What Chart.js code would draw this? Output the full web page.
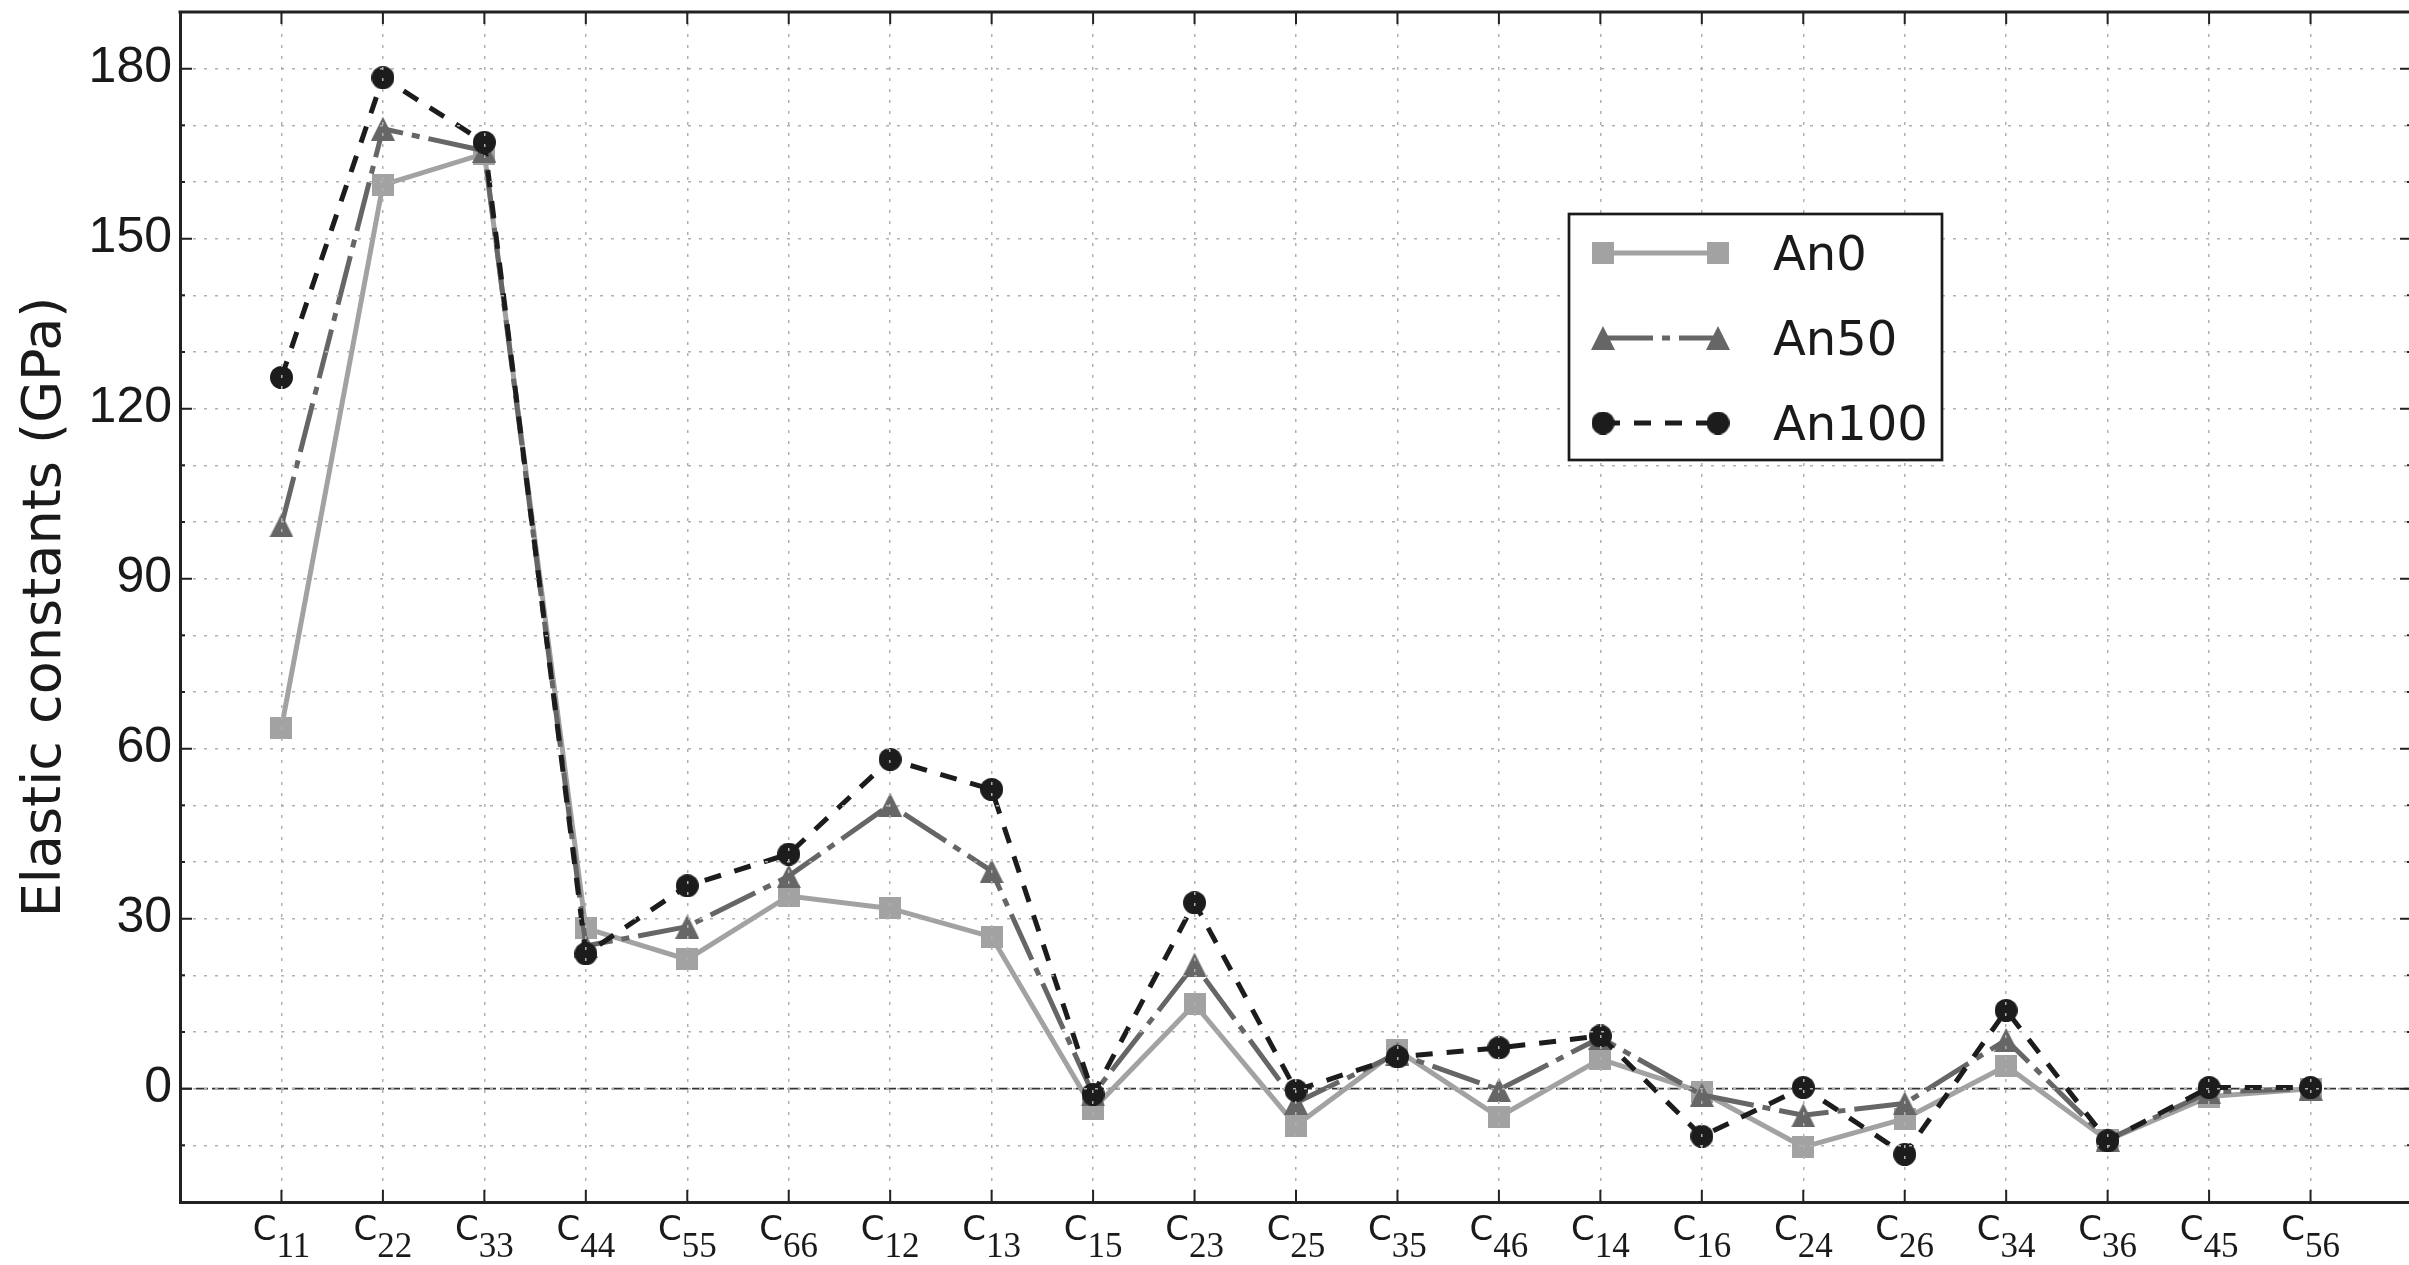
<!DOCTYPE html>
<html>
<head>
<meta charset="utf-8">
<title>Elastic constants</title>
<style>
  html, body { margin: 0; padding: 0; background: #fff; overflow: hidden; }
  #wrap { width: 2416px; height: 1265px; }
</style>
</head>
<body>
<div id="wrap"><canvas id="chart" width="2416" height="1265"></canvas></div>
<script src="https://cdn.jsdelivr.net/npm/chart.js@4.4.1/dist/chart.umd.min.js"></script>
<script>
// Elastic constants of An0 / An50 / An100, one point per Cij component.

const categories = ["C11", "C22", "C33", "C44", "C55", "C66", "C12", "C13", "C15", "C23", "C25",
  "C35", "C46", "C14", "C16", "C24", "C26", "C34", "C36", "C45", "C56"];

const an0 = [63.7, 159.5, 165.0, 28.3, 22.8, 34.0, 31.8, 26.8, -3.6, 14.9, -6.5,
  6.8, -5.0, 5.2, -0.6, -10.3, -5.3, 4.0, -9.1, -1.4, 0.0];
const an50 = [99.4, 169.4, 165.5, 25.2, 28.6, 37.5, 50.1, 38.4, -1.0, 21.9, -2.5,
  6.2, -0.2, 9.0, -1.1, -4.7, -2.6, 8.6, -9.0, -0.6, 0.0];
const an100 = [125.5, 178.4, 167.0, 23.8, 35.8, 41.4, 58.1, 52.8, -1.0, 32.8, -0.3,
  5.6, 7.2, 9.3, -8.4, 0.2, -11.6, 13.8, -9.2, 0.2, 0.2];

const yTicks = [0, 30, 60, 90, 120, 150, 180];

const TEXT = "#1a1a1a";
const FRAME = "#222222";
const GRID = "#b0b0b0";

// matplotlib-like markers, centred on their bounding box
function markerCanvas(kind, size, color) {
  const c = document.createElement("canvas");
  c.width = size;
  c.height = size;
  const g = c.getContext("2d");
  g.fillStyle = color;
  g.beginPath();
  if (kind === "square") {
    g.rect(0, 0, size, size);
  } else if (kind === "triangle") {
    g.moveTo(size / 2, 0);
    g.lineTo(size, size);
    g.lineTo(0, size);
    g.closePath();
  } else {
    g.arc(size / 2, size / 2, size / 2, 0, Math.PI * 2);
  }
  g.fill();
  return c;
}

const series = [
  { label: "An0", values: an0, color: "#a2a2a2", dash: [], marker: markerCanvas("square", 22, "#a2a2a2"), order: 3 },
  { label: "An50", values: an50, color: "#666666", dash: [50, 9, 8, 9], marker: markerCanvas("triangle", 24, "#666666"), order: 2 },
  { label: "An100", values: an100, color: "#1c1c1c", dash: [17, 14], marker: markerCanvas("circle", 23, "#1c1c1c"), order: 1 },
];

// dashed horizontal line at y = 0, under the data
const zeroLine = {
  id: "zeroLine",
  beforeDatasetsDraw(chart) {
    const { ctx, chartArea, scales: { y } } = chart;
    const py = y.getPixelForValue(0);
    ctx.save();
    ctx.strokeStyle = "#333333";
    ctx.lineWidth = 1.6;
    ctx.setLineDash([12, 4]);
    ctx.beginPath();
    ctx.moveTo(chartArea.left, py);
    ctx.lineTo(chartArea.right, py);
    ctx.stroke();
    ctx.restore();
  },
};

// top/right frame and inward tick marks on all four sides
const frameTicks = {
  id: "frameTicks",
  afterDraw(chart) {
    const { ctx, chartArea: a, scales: { x, y } } = chart;
    ctx.save();
    ctx.strokeStyle = FRAME;
    ctx.lineWidth = 3;
    ctx.beginPath();
    ctx.moveTo(a.left - 1.5, a.top);
    ctx.lineTo(a.right + 1.5, a.top);
    ctx.moveTo(a.right, a.top);
    ctx.lineTo(a.right, a.bottom);
    ctx.stroke();

    ctx.lineWidth = 2;
    ctx.beginPath();
    y.ticks.forEach((t) => {
      if (t.value <= y.min || t.value >= y.max) return;
      const py = y.getPixelForValue(t.value);
      const len = t.value % 30 === 0 ? 12 : 5;
      ctx.moveTo(a.left, py);
      ctx.lineTo(a.left + len, py);
      ctx.moveTo(a.right, py);
      ctx.lineTo(a.right - len, py);
    });
    categories.forEach((_, i) => {
      const px = x.getPixelForValue(i + 1);
      ctx.moveTo(px, a.bottom);
      ctx.lineTo(px, a.bottom - 12);
      ctx.moveTo(px, a.top);
      ctx.lineTo(px, a.top + 12);
    });
    ctx.stroke();
    ctx.restore();
  },
};

// "C" with a serif subscript under each category position
const xLabels = {
  id: "xLabels",
  afterDraw(chart) {
    const { ctx, chartArea: a, scales: { x } } = chart;
    const headFont = '34px "DejaVu Sans", sans-serif';
    const subFont = '35px "Liberation Serif", "DejaVu Serif", serif';
    ctx.save();
    ctx.fillStyle = TEXT;
    ctx.textAlign = "left";
    ctx.textBaseline = "alphabetic";
    categories.forEach((name, i) => {
      const px = x.getPixelForValue(i + 1);
      const head = name.charAt(0);
      const sub = name.slice(1);
      ctx.font = headFont;
      const wh = ctx.measureText(head).width;
      ctx.font = subFont;
      const ws = ctx.measureText(sub).width;
      const gap = 0;
      const x0 = px - (wh + gap + ws) / 2;
      ctx.font = headFont;
      ctx.fillText(head, x0, a.bottom + 38);
      ctx.font = subFont;
      ctx.fillText(sub, x0 + wh + gap, a.bottom + 55);
    });
    ctx.restore();
  },
};

// boxed legend with the line sample between two markers
const legendBox = {
  id: "legendBox",
  afterDraw(chart) {
    const { ctx } = chart;
    const box = { x: 1569, y: 214, w: 373, h: 246 };
    ctx.save();
    ctx.fillStyle = "#ffffff";
    ctx.fillRect(box.x, box.y, box.w, box.h);
    ctx.strokeStyle = TEXT;
    ctx.lineWidth = 2.7;
    ctx.strokeRect(box.x, box.y, box.w, box.h);

    chart.data.datasets.forEach((ds, i) => {
      const cy = 253 + i * 85;
      const x1 = 1603;
      const x2 = 1718;
      ctx.strokeStyle = ds.borderColor;
      ctx.lineWidth = ds.borderWidth;
      ctx.setLineDash(ds.borderDash || []);
      ctx.beginPath();
      ctx.moveTo(x1, cy);
      ctx.lineTo(x2, cy);
      ctx.stroke();
      ctx.setLineDash([]);
      const m = ds.pointStyle;
      ctx.drawImage(m, x1 - m.width / 2, cy - m.height / 2);
      ctx.drawImage(m, x2 - m.width / 2, cy - m.height / 2);
      ctx.fillStyle = TEXT;
      ctx.font = '48px "DejaVu Sans", sans-serif';
      ctx.textBaseline = "alphabetic";
      ctx.fillText(ds.label, 1773, cy + 17);
    });
    ctx.restore();
  },
};

const gridOpts = (lo, hi) => ({
  color: (c) => (c.tick && (c.tick.value <= lo || c.tick.value >= hi) ? "rgba(0,0,0,0)" : GRID),
  lineWidth: 1.5,
  drawTicks: false,
  z: 1,
});

new Chart(document.getElementById("chart"), {
  type: "line",
  data: {
    datasets: series.map((s) => ({
      label: s.label,
      data: s.values.map((v, i) => ({ x: i + 1, y: v })),
      borderColor: s.color,
      backgroundColor: s.color,
      borderWidth: 5,
      borderDash: s.dash,
      pointStyle: s.marker,
      pointRadius: 12,
      pointHoverRadius: 12,
      tension: 0,
      fill: false,
      order: s.order,
    })),
  },
  options: {
    responsive: false,
    animation: false,
    events: [],
    layout: { autoPadding: false, padding: { top: 12, right: 4, left: 0, bottom: 0 } },
    plugins: { legend: { display: false }, tooltip: { enabled: false } },
    scales: {
      x: {
        type: "linear",
        min: 0,
        max: categories.length + 1,
        ticks: { stepSize: 1, display: false },
        grid: gridOpts(0, categories.length + 1),
        border: { display: true, color: FRAME, width: 3, dash: [3, 8], z: 1 },
        afterFit: (s) => {
          s.height = 63;
          s.paddingLeft = 0;
          s.paddingRight = 0;
        },
      },
      y: {
        type: "linear",
        min: -20,
        max: 190,
        ticks: {
          stepSize: 10,
          autoSkip: false,
          padding: 8,
          color: TEXT,
          font: { family: '"Liberation Sans", Arial, sans-serif', size: 50 },
          callback: (v) => (yTicks.includes(v) ? String(v) : ""),
        },
        title: {
          display: true,
          text: "Elastic constants (GPa)",
          color: TEXT,
          font: { family: '"DejaVu Sans", sans-serif', size: 54 },
          padding: { top: 14, bottom: 0 },
        },
        grid: gridOpts(-20, 190),
        border: { display: true, color: FRAME, width: 3, dash: [3, 8], z: 1 },
        afterFit: (s) => {
          s.width = 180;
          s.paddingTop = 0;
          s.paddingBottom = 0;
        },
      },
    },
  },
  plugins: [zeroLine, frameTicks, xLabels, legendBox],
});
</script>
</body>
</html>
